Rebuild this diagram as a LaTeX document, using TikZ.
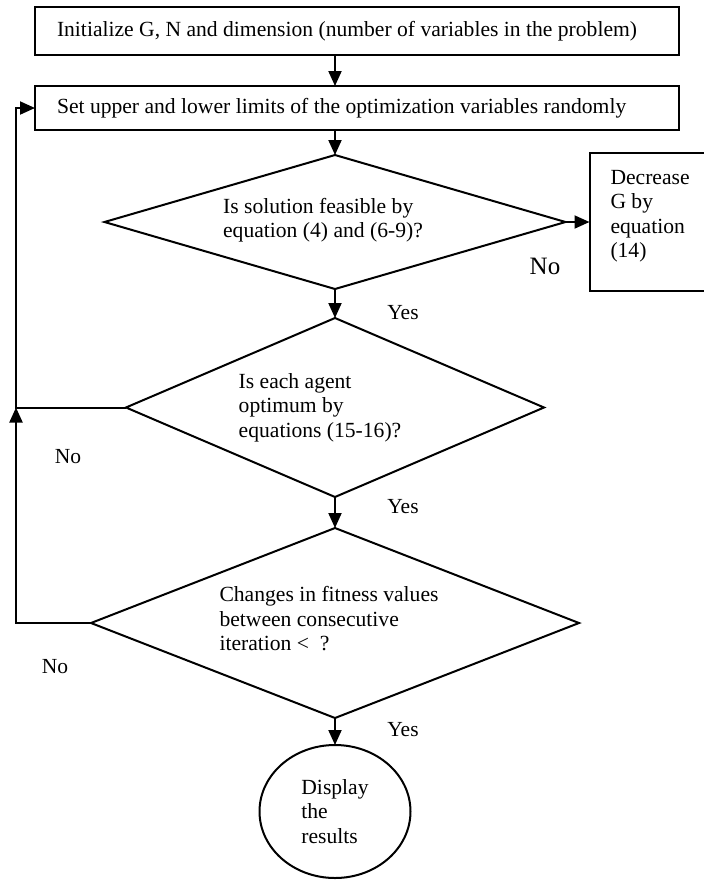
\documentclass[tikz,border=0pt]{standalone}
\usepackage{fontspec}
\setmainfont{Liberation Serif}
\usetikzlibrary{arrows.meta, positioning, shapes.geometric}

\begin{document}
\begin{tikzpicture}[x=0.5pt, y=-0.5pt, line width=1pt,
font=\fontsize{10.8}{12.25}\selectfont,
every node/.append style={outer sep=0pt},
box/.style = {% process box
rectangle, draw, minimum height=22pt, text width=300pt,
inner xsep=11pt, align=flush left},
test/.style 2 args = {% decision diamond
diamond, draw, minimum width=#1, minimum height=#2, inner sep=0pt},
arr/.style = {-{Triangle[length=7.5pt, width=6.5pt]}},
lbl/.style = {font=\fontsize{10.75}{12}\selectfont, inner sep=0pt}]
\useasboundingbox (0,0) rectangle (703,880);
% main column
\node[box, minimum height=24pt] (init) at (357,31) {Initialize G, N and dimension (number of variables in the problem)};
\node[box, below=15.5pt of init] (limits) {Set upper and lower limits of the optimization variables randomly};
\node[test={230.5pt}{67pt}, below=12.5pt of limits, xshift=-11pt,
label={[align=left, xshift=-6pt, yshift=1pt]center:Is solution feasible by\\equation (4) and (6-9)?}] (feas) {};
\node[test={209pt}{89.5pt}, below=14.5pt of feas,
label={[align=left, xshift=-7.5pt]center:Is each agent\\optimum by\\equations (15-16)?}] (optim) {};
\node[test={244pt}{95pt}, below=15.5pt of optim,
label={[align=left, xshift=-3pt, yshift=2pt]center:Changes in fitness values\\between consecutive\\iteration <\ \ ?}] (change) {};
\node[ellipse, draw, minimum width=75.5pt, minimum height=66.5pt, inner sep=0pt,
align=left, below=13.5pt of change] (show) {Display\\the\\results};
\node[draw, minimum width=57.5pt, minimum height=69pt, right=12pt of feas,
label={[anchor=north west, align=left, inner sep=0pt, xshift=10.5pt, yshift=-8.5pt]north west:Decrease\\G by\\equation\\(14)}] (decr) {};
% connectors
\coordinate (back) at ([xshift=-55pt]optim.west);
\draw[arr] (init.south -| feas.north) -- (limits.north -| feas.north);
\draw[arr] (limits.south -| feas.north) -- (feas.north);
\draw[arr] (feas.east) -- (decr.west);
\draw[arr] (feas.south) -- (optim.north);
\draw[arr] (optim.south) -- (change.north);
\draw[arr] (change.south) -- (show.north);
\draw[arr] (optim.west) -- (back) |- (limits.west);
\draw[arr] (change.west) -| (back);
% branch labels
\node[lbl] (yes1) at (403,313) {Yes};
\node[lbl] (yes2) at (403,507) {Yes};
\node[lbl] (yes3) at (403,730) {Yes};
\node[lbl] (no1) at (68,457) {No};
\node[lbl] (no2) at (55,667) {No};
\node[lbl, font=\fontsize{12.5}{14}\selectfont] (no0) at (545,266) {No};
\end{tikzpicture}
\end{document}
